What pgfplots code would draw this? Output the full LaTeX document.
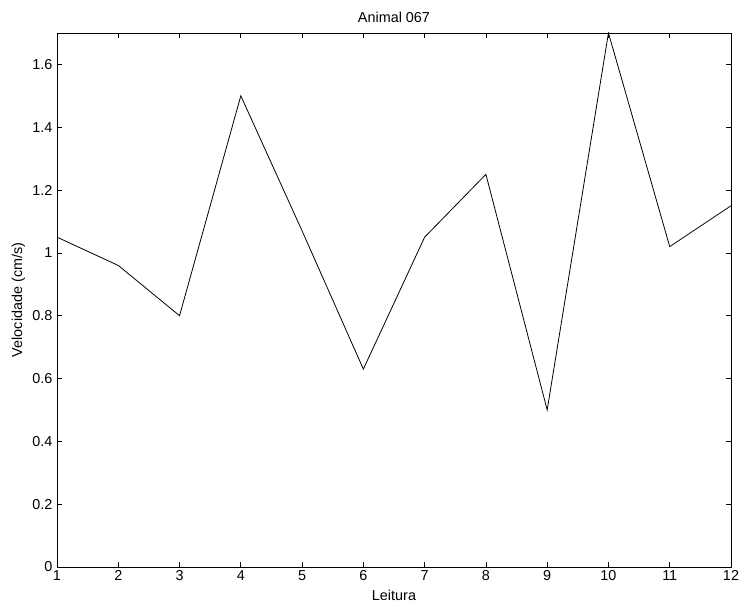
\documentclass[border=0pt]{standalone}
\usepackage{fontspec}
\setmainfont{Liberation Sans}
\usepackage{pgfplots}
\pgfplotsset{compat=1.18}
\begin{document}
\begin{tikzpicture}
\begin{axis}[
  scale only axis,
  width=505.5pt, height=400.5pt,
  xmin=1, xmax=12, ymin=0, ymax=1.7,
  xtick={1,...,12},
  ytick={0,0.2,0.4,0.6,0.8,1,1.2,1.4,1.6},
  yticklabels={0,0.2,0.4,0.6,0.8,1,1.2,1.4,1.6},
  tick align=inside,
  major tick length=3.75pt,
  tick style={black, line width=0.5pt},
  axis line style={line width=0.5pt},
  /pgf/number format/assume math mode=true,
  ticklabel style={font=\fontsize{10.8}{12}\selectfont},
  xticklabel style={yshift=1pt},
  title={Animal 067},
  title style={font=\fontsize{10.8}{12}\selectfont, yshift=-2pt},
  xlabel={Leitura},
  ylabel={Velocidade (cm/s)},
  label style={font=\fontsize{10.8}{12}\selectfont},
  xlabel style={yshift=0pt},
  ylabel style={yshift=-1.5pt},
]
\addplot[black, line width=0.6pt, mark=none] coordinates {
(1,1.05) (2,0.96) (3,0.80) (4,1.50) (5,1.07) (6,0.63)
(7,1.05) (8,1.25) (9,0.50) (10,1.70) (11,1.02) (12,1.15)
};
\coordinate (sw) at (rel axis cs:0,0);
\coordinate (ne) at (rel axis cs:1,1);
\end{axis}
\pgfresetboundingbox
\path ([shift={(-42.75pt,-31.5pt)}]sw) rectangle ([shift={(9pt,24.75pt)}]ne);
\end{tikzpicture}
\end{document}
